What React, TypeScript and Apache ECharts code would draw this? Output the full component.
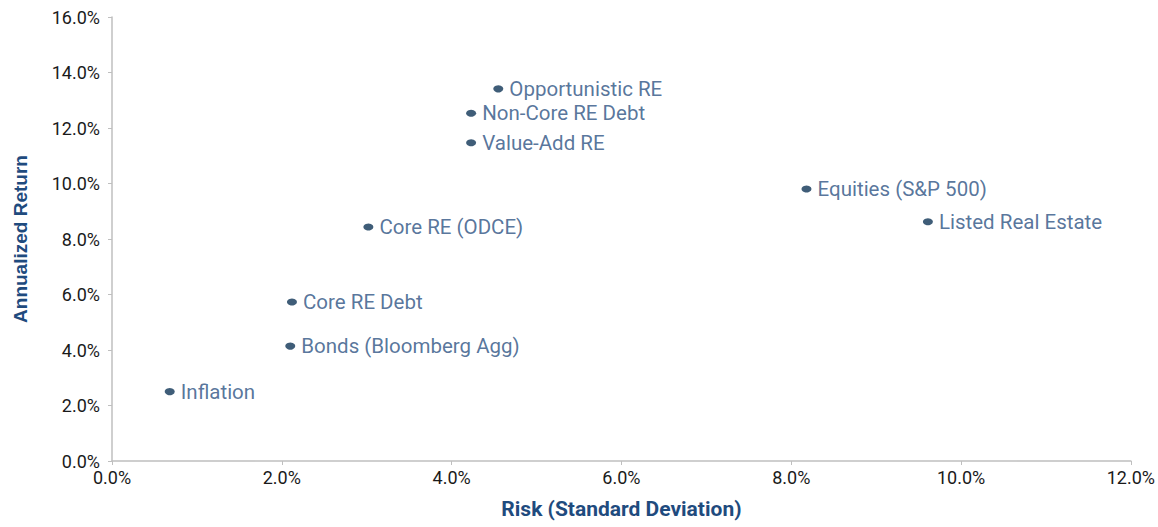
import React, { useEffect, useRef } from "react";
import * as echarts from "echarts";

const names = [
  "Inflation",
  "Bonds (Bloomberg Agg)",
  "Core RE Debt",
  "Core RE (ODCE)",
  "Value-Add RE",
  "Non-Core RE Debt",
  "Opportunistic RE",
  "Equities (S&P 500)",
  "Listed Real Estate",
];
const risk = [0.68, 2.1, 2.12, 3.02, 4.23, 4.23, 4.55, 8.18, 9.61];
const ret = [2.5, 4.14, 5.73, 8.43, 11.47, 12.53, 13.41, 9.8, 8.62];

export default function App() {
  const ref = useRef<HTMLDivElement>(null);
  useEffect(() => {
    const chart = echarts.init(ref.current!, null, { renderer: "svg" });
    const fmt = (v: number) => v.toFixed(1) + "%";
    chart.setOption({
      animation: false,
      textStyle: { fontFamily: "Roboto" },
      grid: { left: 112, right: 22, top: 17, bottom: 66 },
      xAxis: {
        type: "value",
        min: 0,
        max: 12,
        interval: 2,
        name: "Risk (Standard Deviation)",
        nameLocation: "middle",
        nameGap: 37,
        nameTextStyle: { color: "#1f4b7e", fontSize: 21, fontWeight: "bold", fontFamily: "Roboto" },
        axisLine: { lineStyle: { color: "#bfbfbf", width: 1.5 } },
        axisTick: { show: true, length: 4, lineStyle: { color: "#bfbfbf" } },
        axisLabel: { formatter: fmt, color: "#1a1a1a", fontSize: 18, margin: 7, fontFamily: "Roboto" },
        splitLine: { show: false },
      },
      yAxis: {
        type: "value",
        min: 0,
        max: 16,
        interval: 2,
        name: "Annualized Return",
        nameLocation: "middle",
        nameGap: 82,
        nameTextStyle: {
          color: "#1f4b7e",
          fontSize: 19,
          fontWeight: "bold",
          fontFamily: "Liberation Sans",
        },
        axisLine: { show: true, lineStyle: { color: "#bfbfbf", width: 1.5 } },
        axisTick: { show: true, length: 4, lineStyle: { color: "#bfbfbf" } },
        axisLabel: { formatter: fmt, color: "#1a1a1a", fontSize: 18, margin: 12, fontFamily: "Roboto" },
        splitLine: { show: false },
      },
      series: [
        {
          type: "scatter",
          symbol: "circle",
          symbolSize: [10, 7],
          itemStyle: { color: "#0f3556" },
          data: names.map((n, i) => ({ name: n, value: [risk[i], ret[i]] })),
          label: {
            show: true,
            position: "right",
            distance: 6,
            formatter: (p: any) => p.name,
            color: "#2d5282",
            fontSize: 20.5,
            fontWeight: "normal",
            fontFamily: "Roboto",
          },
        },
      ],
    });
    return () => chart.dispose();
  }, []);
  return (
    <div
      ref={ref}
      style={{ position: "absolute", left: 0, top: 0, width: 1158, height: 527, background: "#fff" }}
    />
  );
}
